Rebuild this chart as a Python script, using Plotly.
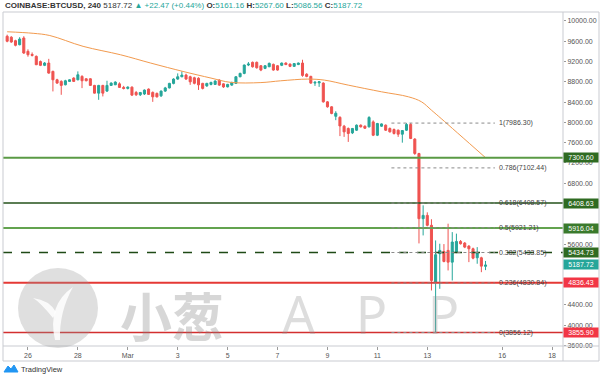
import plotly.graph_objects as go
import pandas as pd

# ---------------- data ----------------
times = pd.date_range("2020-02-25 04:00", periods=116, freq="4h")

opens = [9698, 9680, 9611, 9532, 9664, 9401, 9340, 9302, 9200, 9125,
         9170, 9006, 8840, 8808, 8742, 8808, 8874, 8840, 8907, 8860,
         8860, 8729, 8577, 8729, 8617, 8729, 8742, 8760, 8690, 8670,
         8695, 8590, 8545, 8560, 8656, 8591, 8571, 8524, 8617, 8680,
         8769, 8854, 8900, 8933, 8900, 8880, 8870, 8769, 8720, 8749,
         8749, 8834, 8760, 8700, 8735, 8769, 8900, 8966, 9131, 9184,
         9184, 9117, 9065, 9097, 9144, 9117, 9125, 9170, 9150, 9105,
         9140, 9170, 8950, 8907, 8775, 8780, 8775, 8405, 8307, 8120,
         8100, 7925, 7880, 7793, 7846, 7945, 7925, 7912, 8010, 7747,
         7925, 7945, 7880, 7860, 7846, 7767, 7846, 7959, 7670, 7386,
         6101, 6166, 5970, 4848, 5410, 5455, 5475, 5244, 5441, 5652,
         5620, 5560, 5508, 5330, 5330, 5161.16]
highs = [9730, 9700, 9630, 9680, 9700, 9441, 9380, 9320, 9220, 9190,
         9253, 9020, 8860, 8830, 8840, 8850, 8890, 9006, 8930, 8870,
         8870, 8740, 8740, 8740, 8821, 8790, 8810, 8790, 8720, 8710,
         8710, 8620, 8600, 8650, 8670, 8610, 8590, 8630, 8700, 8780,
         8870, 8966, 9006, 8960, 8920, 8900, 8890, 8780, 8780, 8800,
         8830, 8850, 8770, 8760, 8800, 8910, 8980, 9140, 9190, 9200,
         9200, 9130, 9130, 9180, 9160, 9130, 9180, 9185, 9160, 9170,
         9180, 9235, 8970, 8920, 8815, 8810, 8790, 8420, 8320, 8220,
         8120, 7950, 7900, 7890, 7960, 7960, 7940, 8123, 8040, 7990,
         7980, 7960, 7900, 7880, 7860, 7850, 7986.3, 7986, 7690, 7400,
         6364, 6226, 6090, 5672, 5607, 5600, 6002, 5836, 5806, 5680,
         5640, 5580, 5530, 5540, 5350, 5267.60]
lows = [9580, 9570, 9500, 9520, 9350, 9295, 9300, 9130, 9110, 9110,
        8960, 8611, 8760, 8544, 8730, 8800, 8800, 8830, 8676, 8810,
        8720, 8570, 8445, 8512, 8600, 8720, 8735, 8680, 8650, 8650,
        8520, 8520, 8520, 8540, 8540, 8405, 8490, 8500, 8600, 8670,
        8750, 8840, 8890, 8840, 8740, 8750, 8640, 8650, 8700, 8730,
        8740, 8720, 8680, 8690, 8720, 8760, 8890, 8950, 9110, 9080,
        9060, 9010, 9050, 9090, 9020, 9020, 9110, 9130, 9090, 9095,
        9130, 8900, 8890, 8760, 8720, 8700, 8390, 8290, 8160, 8044,
        7730, 7714, 7615, 7770, 7830, 7900, 7870, 7900, 7730, 7730,
        7910, 7830, 7800, 7760, 7714, 7600, 7830, 7670, 7360, 5613,
        5771, 5950, 4685, 3856.12, 4718, 5240, 5080, 4882, 5420, 5590,
        5520, 5244, 5300, 5212, 5046, 5086.56]
closes = [9600, 9585, 9520, 9644, 9368, 9335, 9322, 9137, 9125, 9170,
          8972, 8840, 8775, 8729, 8821, 8840, 8808, 8939, 8821, 8821,
          8729, 8577, 8729, 8577, 8729, 8775, 8795, 8690, 8670, 8695,
          8538, 8545, 8590, 8637, 8552, 8504, 8504, 8617, 8680, 8769,
          8854, 8900, 8933, 8854, 8800, 8770, 8740, 8670, 8769, 8789,
          8815, 8735, 8700, 8749, 8789, 8900, 8966, 9131, 9150, 9097,
          9077, 9032, 9117, 9164, 9032, 9032, 9170, 9140, 9105, 9160,
          9170, 8927, 8907, 8775, 8790, 8800, 8405, 8307, 8176, 8180,
          7930, 7813, 7781, 7880, 7945, 7912, 7885, 8097, 7747, 7978,
          7970, 7846, 7813, 7781, 7767, 7840, 7959, 7682, 7386, 6101,
          6166, 5970, 4882, 5390, 5475, 5257, 5244, 5640, 5652, 5607,
          5540, 5508, 5323, 5420, 5165.25, 5187.72]

ma_times = ["2020-02-25 04:00", "2020-02-26 05:00", "2020-02-26 21:00", "2020-02-28 05:00",
            "2020-02-29 17:00", "2020-03-01 22:00", "2020-03-03 06:00", "2020-03-04 08:00",
            "2020-03-05 03:00", "2020-03-06 08:00", "2020-03-07 03:00", "2020-03-08 05:00",
            "2020-03-08 21:00", "2020-03-09 20:00", "2020-03-11 04:00", "2020-03-12 06:00",
            "2020-03-12 18:30", "2020-03-13 04:00", "2020-03-13 14:00", "2020-03-15 07:30"]
ma_values = [9787, 9757, 9713, 9500, 9334, 9170, 9000, 8874, 8789, 8785,
             8820, 8854, 8834, 8735, 8603, 8504, 8405, 8241, 8064, 7313]

level_values = [7300.60, 6408.63, 5916.04, 5434.73, 4836.43, 3855.90]
level_colors = ["#5a9a45", "#24521a", "#63a34f", "#1f4a16", "#e53935", "#d32f2f"]
level_label_bg = ["#2f6b22", "#2f6b22", "#3a7a2c", "#2f6b22", "#f23645", "#f23645"]
level_dash = ["solid", "solid", "solid", "dash", "solid", "solid"]
level_width = [2, 1.5, 2, 1.5, 2, 1.5]

last_price = 5187.72

fib_ratios = ["1", "0.786", "0.618", "0.5", "0.382", "0.236", "0"]
fib_values = [7986.30, 7102.44, 6408.57, 5921.21, 5433.85, 4830.84, 3856.12]
fib_start = "2020-03-11 13:30"
fib_end = "2020-03-15 17:00"

# tick labels hidden behind the price boxes in the reference are omitted
ytick_vals = [3600, 4000, 4400, 5600, 6800, 7200, 7600, 8000, 8400, 8800,
              9200, 9600, 10000]
xtick_vals = ["2020-02-26", "2020-02-28", "2020-03-01", "2020-03-03", "2020-03-05",
              "2020-03-07", "2020-03-09", "2020-03-11", "2020-03-13", "2020-03-16",
              "2020-03-18"]
xtick_text = ["26", "28", "Mar", "3", "5", "7", "9", "11", "13", "16", "18"]

# ---------------- layout helpers ----------------
W, H = 600, 378
ML, MR, MT, MB = 3, 37, 12, 32


def px(x):
    return (x - ML) / (W - ML - MR)


def py(y):
    return (H - MB - y) / (H - MT - MB)


UP = "#26a69a"
DOWN = "#ef5350"
FONT = "Liberation Sans"

fig = go.Figure()

fig.add_trace(go.Candlestick(
    x=times, open=opens, high=highs, low=lows, close=closes,
    increasing=dict(line=dict(color=UP, width=1), fillcolor=UP),
    decreasing=dict(line=dict(color=DOWN, width=1), fillcolor=DOWN),
    whiskerwidth=0, hoverinfo="skip", showlegend=False,
))

fig.add_trace(go.Scatter(
    x=ma_times, y=ma_values, mode="lines", line=dict(color="#f29a4e", width=1, shape="spline"),
    hoverinfo="skip", showlegend=False,
))

shapes = []
annotations = []

# horizontal user lines
for v, c, d, w, bg in zip(level_values, level_colors, level_dash, level_width, level_label_bg):
    shapes.append(dict(type="line", xref="paper", yref="y", x0=0, x1=1, y0=v, y1=v,
                       line=dict(color=c, width=w, dash=d), layer="above"))
    annotations.append(dict(xref="paper", yref="y", x=1, y=v, xanchor="left", yanchor="middle",
                            xshift=0, text=f"{v:.2f}", showarrow=False, bgcolor=bg,
                            font=dict(color="white", size=7, family=FONT), width=32, borderpad=1))

annotations.append(dict(xref="paper", yref="y", x=1, y=last_price, xanchor="left", yanchor="middle",
                        xshift=0, text=f"{last_price:.2f}", showarrow=False, bgcolor=UP,
                        font=dict(color="white", size=7, family=FONT), width=32, borderpad=1))

# fibonacci
for r, v in zip(fib_ratios, fib_values):
    shapes.append(dict(type="line", xref="x", yref="y", x0=fib_start, x1=fib_end, y0=v, y1=v,
                       line=dict(color="#8a8a8a", width=1, dash="dot"), layer="above"))
    annotations.append(dict(xref="x", yref="y", x=fib_end, y=v, xanchor="left", yanchor="middle",
                            xshift=2, text=f"{r}({v:.2f})", showarrow=False,
                            font=dict(color="#444444", size=7, family=FONT)))

# frame
FR = "#c9cbd1"
shapes += [
    dict(type="rect", xref="paper", yref="paper", x0=0, x1=px(599), y0=py(361), y1=1,
         line=dict(color=FR, width=1), layer="above"),
    dict(type="line", xref="paper", yref="paper", x0=0, x1=px(599), y0=0, y1=0,
         line=dict(color=FR, width=1), layer="above"),
    dict(type="line", xref="paper", yref="paper", x0=1, x1=1, y0=py(361), y1=1,
         line=dict(color=FR, width=1), layer="above"),
]

# watermark logo circle + sprout
shapes.append(dict(type="circle", xref="paper", yref="paper",
                   x0=px(18), x1=px(98), y0=py(348), y1=py(268),
                   fillcolor="rgba(150,150,150,0.30)", line=dict(width=0), layer="above"))
leaf = (f"M {px(55)} {py(340)} Q {px(47)} {py(305)} {px(73)} {py(287)} "
        f"Q {px(59)} {py(312)} {px(60)} {py(340)} Z")
leaf2 = (f"M {px(53)} {py(318)} Q {px(40)} {py(302)} {px(33)} {py(298)} "
         f"Q {px(49)} {py(300)} {px(56)} {py(312)} Z")
shapes.append(dict(type="path", xref="paper", yref="paper", path=leaf,
                   fillcolor="rgba(255,255,255,0.85)", line=dict(width=0), layer="above"))
shapes.append(dict(type="path", xref="paper", yref="paper", path=leaf2,
                   fillcolor="rgba(255,255,255,0.85)", line=dict(width=0), layer="above"))

annotations.append(dict(xref="paper", yref="paper", x=px(172), y=py(314), xanchor="center",
                        yanchor="middle", text="<b>小葱</b>", showarrow=False,
                        font=dict(size=52, color="rgba(130,130,130,0.32)", family="Noto Sans CJK SC")))
annotations.append(dict(xref="paper", yref="paper", x=px(370), y=py(313), xanchor="center",
                        yanchor="middle", text="A   P   P", showarrow=False,
                        font=dict(size=52, color="rgba(150,150,150,0.32)", family="Noto Sans")))

# header
hdr = ("<b>COINBASE:BTCUSD, 240</b> 5187.72 "
       f"<span style='color:{UP}'>▲ +22.47 (+0.44%)</span> "
       f"<b>O:</b><span style='color:{UP}'>5161.16</span> "
       f"<b>H:</b><span style='color:{UP}'>5267.60</span> "
       f"<b>L:</b><span style='color:{UP}'>5086.56</span> "
       f"<b>C:</b><span style='color:{UP}'>5187.72</span>")
annotations.append(dict(xref="paper", yref="paper", x=px(3), y=py(5.5), xanchor="left",
                        yanchor="middle", text=hdr, showarrow=False,
                        font=dict(size=8, color="#333333", family=FONT)))

# TradingView mark
tv_icon = (f"M {px(4)} {py(372)} L {px(8)} {py(366)} L {px(11)} {py(369)} L {px(14)} {py(365)} "
           f"L {px(18)} {py(372)} Z")
shapes.append(dict(type="path", xref="paper", yref="paper", path=tv_icon,
                   fillcolor="#2196f3", line=dict(color="#2196f3", width=1)))
annotations.append(dict(xref="paper", yref="paper", x=px(19), y=py(369), xanchor="left",
                        yanchor="middle", text="TradingView", showarrow=False,
                        font=dict(size=7.5, color="#333333", family=FONT)))

fig.update_layout(
    width=W, height=H,
    margin=dict(l=ML, r=MR, t=MT, b=MB, autoexpand=False),
    paper_bgcolor="white", plot_bgcolor="white",
    showlegend=False, hovermode=False,
    shapes=shapes, annotations=annotations,
    boxgap=0.3,
    xaxis=dict(type="date", range=["2020-02-25 00:00", "2020-03-18 10:30"], automargin=False,
               rangeslider=dict(visible=False), showgrid=False, zeroline=False, showline=False,
               tickmode="array", tickvals=xtick_vals, ticktext=xtick_text,
               ticks="outside", ticklen=3, tickcolor="#9a9a9a",
               tickfont=dict(size=7, color="#555555", family=FONT)),
    yaxis=dict(side="right", range=[3590, 10177], automargin=False,
               showgrid=False, zeroline=False, showline=False,
               tickmode="array", tickvals=ytick_vals, tickformat=".2f",
               ticks="outside", ticklen=2, tickcolor="#9a9a9a",
               tickfont=dict(size=7, color="#555555", family=FONT)),
)

fig.write_html("out.html", config={"displayModeBar": False},
               post_script="document.body.style.margin='0';document.body.style.overflow='hidden';")
